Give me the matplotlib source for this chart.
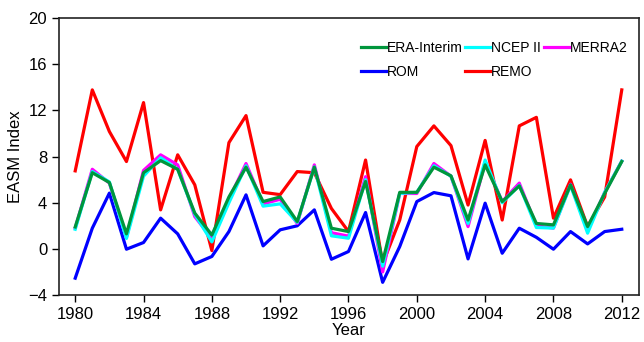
import matplotlib
matplotlib.use("Agg")
import matplotlib.pyplot as plt
import numpy as np

plt.rcParams['font.family'] = ['Liberation Sans', 'DejaVu Sans']

years = np.arange(1980, 2013)

era_interim = [1.9, 6.6, 5.75, 1.3, 6.6, 7.65, 6.9, 3.1, 1.2, 4.5,
               7.08, 4.1, 4.5, 2.37, 7.08, 1.79, 1.5, 5.84, -1.1, 4.9,
               4.9, 7.08, 6.33, 2.5, 7.28, 4.1, 5.46, 2.2, 2.08, 5.55,
               1.93, 4.8, 7.57]
ncep2 = [1.7, 6.7, 5.8, 0.9, 6.3, 7.9, 6.9, 3.0, 0.6, 4.0,
         7.2, 3.7, 3.9, 2.3, 7.1, 1.13, 0.92, 6.0, -1.5, 4.8,
         4.9, 7.2, 6.3, 2.2, 7.7, 4.0, 5.5, 1.85, 1.8, 5.5,
         1.36, 4.9, 7.6]
merra2 = [1.8, 6.9, 5.7, 1.0, 6.8, 8.15, 7.28, 2.8, 0.9, 4.3,
          7.4, 3.9, 4.3, 2.2, 7.28, 1.4, 1.1, 6.26, -2.0, 4.8,
          4.8, 7.4, 6.3, 1.93, 7.5, 4.1, 5.7, 2.0, 1.8, 5.6,
          1.6, 4.9, 7.6]
rom = [-2.54, 1.79, 4.83, -0.03, 0.55, 2.66, 1.3, -1.3, -0.66, 1.5,
       4.68, 0.26, 1.65, 2.0, 3.38, -0.9, -0.23, 3.15, -2.9, 0.2,
       4.1, 4.88, 4.6, -0.87, 3.96, -0.38, 1.79, 1.0, -0.03, 1.5,
       0.43, 1.5, 1.7]
remo = [6.76, 13.78, 10.17, 7.57, 12.68, 3.38, 8.15, 5.55, -0.15, 9.21,
        11.55, 4.9, 4.7, 6.7, 6.6, 3.5, 1.5, 7.7, -1.3, 2.5,
        8.87, 10.66, 8.95, 3.8, 9.4, 2.5, 10.66, 11.4, 2.66, 5.98,
        1.93, 4.5, 13.78]

fig = plt.figure(figsize=(6.44, 3.42), dpi=100)
ax = fig.add_axes([0.0916, 0.1374, 0.9004, 0.8096])

lw = 2.3
l_remo, = ax.plot(years, remo, color='#ff0000', lw=lw, label='REMO', zorder=2)
l_rom, = ax.plot(years, rom, color='#0000ff', lw=lw, label='ROM', zorder=3)
l_merra, = ax.plot(years, merra2, color='#ff00ff', lw=lw, label='MERRA2', zorder=4)
l_ncep, = ax.plot(years, ncep2, color='#00ffff', lw=lw, label='NCEP II', zorder=5)
l_era, = ax.plot(years, era_interim, color='#00963c', lw=lw, label='ERA-Interim', zorder=6)

ax.set_xlim(1979.05, 2013)
ax.set_ylim(-4, 20)
ax.set_xticks(np.arange(1980, 2013, 4))
ax.set_yticks(np.arange(-4, 21, 4))
ax.tick_params(direction='out', length=5, width=1, labelsize=12, colors='black')
for sp in ax.spines.values():
    sp.set_linewidth(1.2)
    sp.set_color('#222222')

ax.set_xlabel('Year', fontsize=12, labelpad=1)
ax.set_ylabel('EASM Index', fontsize=12, labelpad=4)

# column-wise fill -> rows read ERA, NCEP, MERRA2 / ROM, REMO
handles = [l_era, l_rom, l_ncep, l_remo, l_merra]
ax.legend(handles=handles, labels=[h.get_label() for h in handles],
          ncol=3, loc='upper left', bbox_to_anchor=(0.521, 0.917),
          frameon=False, fontsize=10,
          handlelength=1.8, handletextpad=0.05,
          columnspacing=0.2, labelspacing=0.7, borderaxespad=0.0,
          borderpad=0.0)

fig.savefig('out.png', dpi=100)
